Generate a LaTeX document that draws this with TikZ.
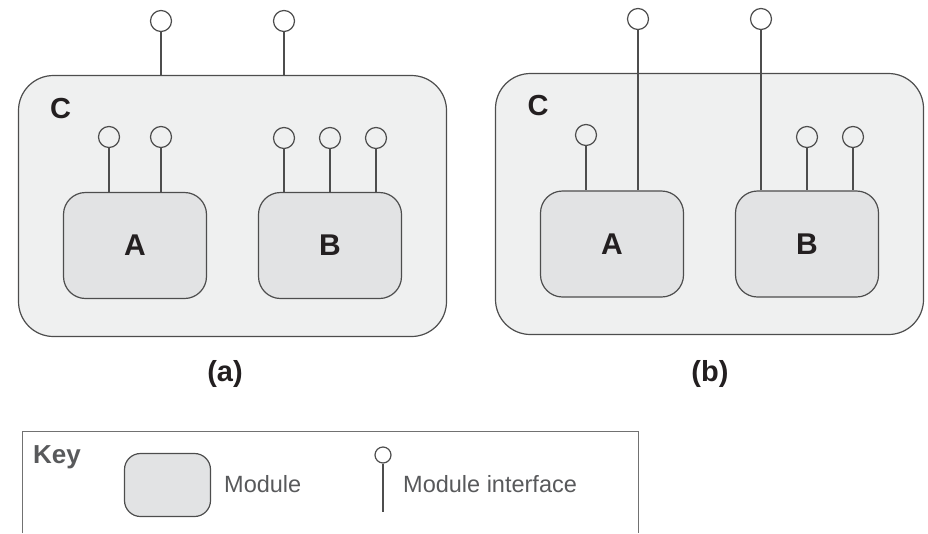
\documentclass[tikz,border=0pt]{standalone}
\usepackage{fontspec}
\setmainfont{Liberation Sans}

\definecolor{outerfill}{HTML}{EFF0F0}
\definecolor{modfill}{HTML}{E2E3E4}
\definecolor{edge}{HTML}{4D4D4D}
\definecolor{ink}{HTML}{231F20}
\definecolor{keyink}{HTML}{58595B}

\tikzset{
  outer/.style={draw=edge, line width=1.2pt, fill=outerfill, rounded corners=35pt,
    minimum width=428pt, minimum height=261pt, inner sep=0pt},
  module/.style={draw=edge, line width=1.2pt, fill=modfill, rounded corners=22pt,
    minimum width=143pt, minimum height=106pt, inner sep=0pt,
    font=\fontsize{30}{34}\selectfont\bfseries, text=ink},
  pin/.style={circle, draw=edge, line width=1.2pt, minimum size=21pt, inner sep=0pt},
  wire/.style={draw=edge, line width=1.2pt},
  biglabel/.style={font=\fontsize{29}{33}\selectfont\bfseries, text=ink, inner sep=0pt},
  keytext/.style={font=\fontsize{23.5}{27}\selectfont, text=keyink, inner sep=0pt, anchor=base west},
}

\begin{document}
\begin{tikzpicture}[x=1pt,y=-1pt]
\useasboundingbox (0,0) rectangle (928,533);

% (a)
\node[outer] (Ca) at (232.5,206) {};
\node[biglabel] (Ca-name) at (60.5,108.5) {C};
\node[module] (Aa) at (135,245.5) {A};
\node[module] (Ba) at (330,245.5) {B};

\foreach \x/\n in {161/ta1,284/ta2} {
  \node[pin] (\n) at (\x,21) {};
  \draw[wire] (\n) -- (\n |- Ca.north);
}
\foreach \x/\n in {109/pa1,161/pa2} {
  \node[pin] (\n) at (\x,137) {};
  \draw[wire] (\n) -- (\n |- Aa.north);
}
\foreach \x/\n in {284/pb1,330/pb2,376/pb3} {
  \node[pin] (\n) at (\x,138) {};
  \draw[wire] (\n) -- (\n |- Ba.north);
}
\node[biglabel] (cap-a) at (225,374) {(a)};

% (b)
\node[outer] (Cb) at (709.5,204) {};
\node[biglabel] (Cb-name) at (538,106) {C};
\node[module] (Ab) at (612,244) {A};
\node[module] (Bb) at (807,244) {B};

\node[pin] (tb1) at (638,19) {};
\node[pin] (tb2) at (761,19) {};
\draw[wire] (tb1) -- (tb1 |- Ab.north);
\draw[wire] (tb2) -- (tb2 |- Bb.north);

\node[pin] (qa1) at (586,135) {};
\draw[wire] (qa1) -- (qa1 |- Ab.north);
\foreach \x/\n in {807/qb1,853/qb2} {
  \node[pin] (\n) at (\x,137) {};
  \draw[wire] (\n) -- (\n |- Bb.north);
}
\node[biglabel] (cap-b) at (710,374) {(b)};

% key
\draw[draw=edge!80, line width=1pt] (22,533) -- (22,431) -- (638,431) -- (638,533);
\node[keytext, font=\fontsize{26}{30}\selectfont\bfseries] (key) at (33,463) {Key};
\node[draw=edge, line width=1.2pt, fill=modfill, rounded corners=16pt,
  minimum width=86pt, minimum height=63pt] (keymod) at (167.5,485) {};
\node[keytext] (keymod-text) at (224,492) {Module};
\node[pin, minimum size=16pt] (keypin) at (383,455) {};
\coordinate (keyend) at (383,512);
\draw[wire] (keypin) -- (keyend);
\node[keytext] (keypin-text) at (403,492) {Module interface};
\end{tikzpicture}
\end{document}
